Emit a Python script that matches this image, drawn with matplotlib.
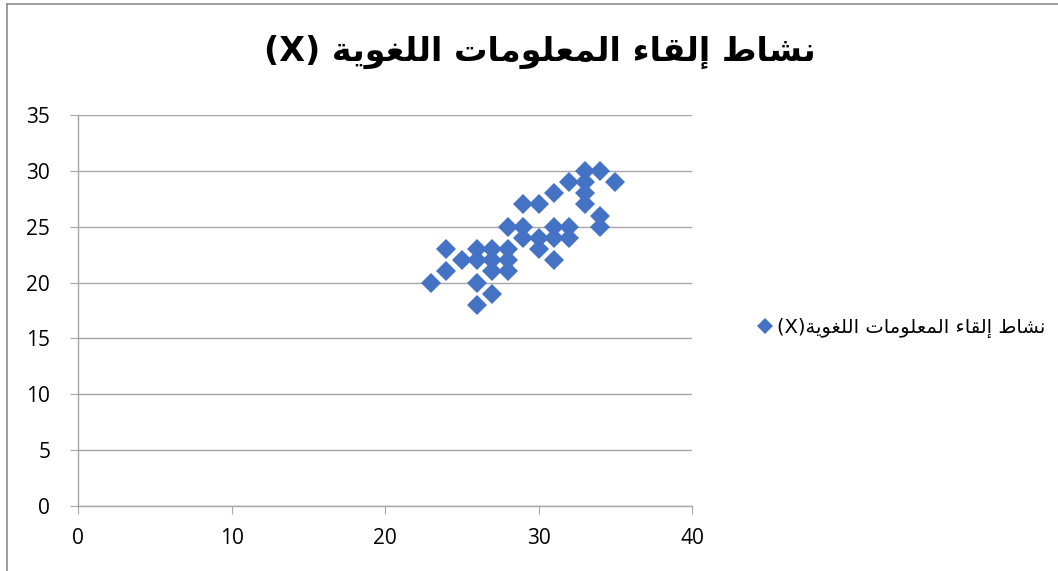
import matplotlib
matplotlib.use('Agg')
import matplotlib.pyplot as plt
from matplotlib.lines import Line2D

# data
x_vals = [23, 24, 24, 25, 26, 26, 26, 26, 27, 27, 27, 27, 28, 28, 28, 28, 29, 29, 29,
          30, 30, 30, 31, 31, 31, 31, 32, 32, 32, 33, 33, 33, 33, 34, 34, 34, 35]
y_vals = [20, 23, 21, 22, 23, 22, 20, 18, 23, 22, 21, 19, 25, 23, 22, 21, 27, 25, 24,
          27, 24, 23, 28, 25, 24, 22, 29, 25, 24, 30, 29, 28, 27, 30, 26, 25, 29]
x_ticks = [0, 10, 20, 30, 40]
y_ticks = [0, 5, 10, 15, 20, 25, 30, 35]
title_ar = 'نشاط إلقاء المعلومات اللغوية'
series_ar = 'نشاط إلقاء المعلومات اللغوية'

# matplotlib does no arabic shaping, so pick presentation forms by hand
# letter: (isolated, final, initial, medial); two forms = joins only to the right
FORMS = {
    'ا': ('\uFE8D', '\uFE8E'), 'إ': ('\uFE87', '\uFE88'), 'ء': ('\uFE80',),
    'ة': ('\uFE93', '\uFE94'), 'و': ('\uFEED', '\uFEEE'),
    'ت': ('\uFE95', '\uFE96', '\uFE97', '\uFE98'),
    'ش': ('\uFEB5', '\uFEB6', '\uFEB7', '\uFEB8'),
    'ط': ('\uFEC1', '\uFEC2', '\uFEC3', '\uFEC4'),
    'ع': ('\uFEC9', '\uFECA', '\uFECB', '\uFECC'),
    'غ': ('\uFECD', '\uFECE', '\uFECF', '\uFED0'),
    'ق': ('\uFED5', '\uFED6', '\uFED7', '\uFED8'),
    'ل': ('\uFEDD', '\uFEDE', '\uFEDF', '\uFEE0'),
    'م': ('\uFEE1', '\uFEE2', '\uFEE3', '\uFEE4'),
    'ن': ('\uFEE5', '\uFEE6', '\uFEE7', '\uFEE8'),
    'ي': ('\uFEF1', '\uFEF2', '\uFEF3', '\uFEF4'),
}


def shape(text):
    out = []
    for i, ch in enumerate(text):
        if ch not in FORMS:
            out.append(ch)
            continue
        prev = text[i - 1] if i > 0 else ''
        nxt = text[i + 1] if i + 1 < len(text) else ''
        join_prev = prev in FORMS and len(FORMS[prev]) == 4
        join_next = len(FORMS[ch]) == 4 and nxt in FORMS
        f = FORMS[ch]
        if join_prev and join_next:
            out.append(f[3])
        elif join_prev and len(f) > 1:
            out.append(f[1])
        elif join_next:
            out.append(f[2])
        else:
            out.append(f[0])
    return ''.join(reversed(out))


blue = '#4472C4'
grid_col = '#A6A6A6'
plt.rcParams['font.family'] = ['DejaVu Sans']

fig = plt.figure(figsize=(10.58, 5.71), dpi=100)
ax = fig.add_axes([78 / 1058, 65 / 571, 614 / 1058, 391 / 571])

ax.plot(x_vals, y_vals, linestyle='none', marker='D', markersize=10.5,
        markerfacecolor=blue, markeredgewidth=0)

ax.set_xlim(0, 40)
ax.set_ylim(0, 35)
ax.set_xticks(x_ticks)
ax.set_yticks(y_ticks)
ax.yaxis.grid(True, color=grid_col, linewidth=1)
ax.set_axisbelow(True)
for side in ['top', 'right']:
    ax.spines[side].set_visible(False)
for side in ['left', 'bottom']:
    ax.spines[side].set_color(grid_col)
    ax.spines[side].set_linewidth(1)
ax.tick_params(axis='x', direction='out', length=6, color=grid_col, labelsize=15, pad=10)
ax.tick_params(axis='y', direction='out', length=6, color=grid_col, labelsize=15, pad=14)
for lab in ax.get_xticklabels() + ax.get_yticklabels():
    lab.set_family(['Open Sans', 'DejaVu Sans'])

fig.text(540 / 1058, 1 - 52 / 571, '(X) ' + shape(title_ar), ha='center', va='center',
         fontsize=24, fontweight='bold', family=['DejaVu Sans'])

handle = Line2D([], [], linestyle='none', marker='D', markersize=8,
                markerfacecolor=blue, markeredgewidth=0)
fig.legend([handle], ['(X)' + shape(series_ar)], loc='center left',
           bbox_to_anchor=(742 / 1058, 1 - 328 / 571), frameon=False,
           handlelength=0.6, handletextpad=0.3, prop={'size': 14, 'family': ['DejaVu Sans']})

# chart area border (only top and left are visible in the crop)
fig.add_artist(Line2D([7 / 1058, 7 / 1058], [0, 1 - 4 / 571], transform=fig.transFigure,
                      color='#8C8C8C', linewidth=1.2))
fig.add_artist(Line2D([7 / 1058, 1], [1 - 4 / 571, 1 - 4 / 571], transform=fig.transFigure,
                      color='#8C8C8C', linewidth=1.2))

fig.savefig('out.png', dpi=100)
